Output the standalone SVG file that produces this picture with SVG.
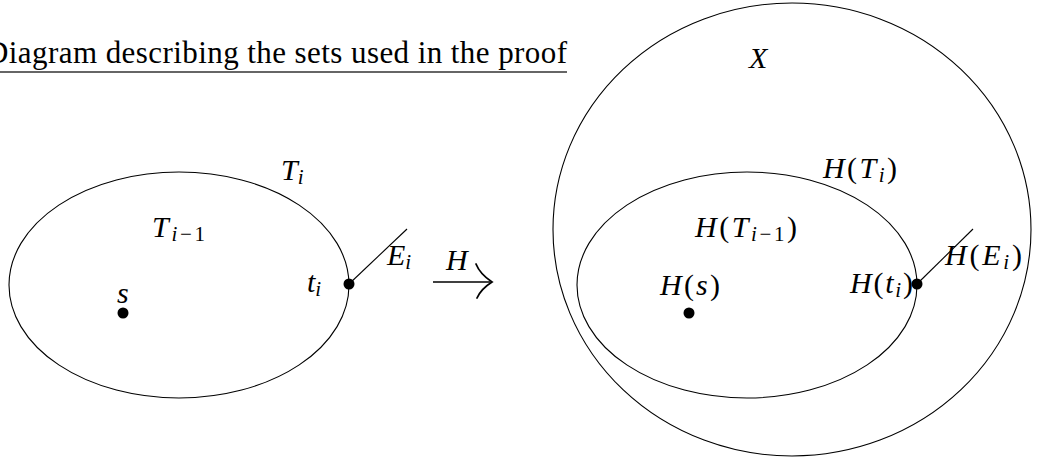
<svg xmlns="http://www.w3.org/2000/svg" width="1037" height="462" viewBox="0 0 1037 462">
<style>
.shape{fill:none;stroke:#000;stroke-width:1.1}
.edge{fill:none;stroke:#000;stroke-width:1.1}
.dot{fill:#000}
.m{font-family:"Liberation Serif","DejaVu Serif",serif;font-size:30px;fill:#000}
.it{font-style:italic}
.sub{font-size:21px}
.title{font-family:"Liberation Serif","DejaVu Serif",serif;font-size:31px;fill:#000}
</style>
<rect width="1037" height="462" fill="#fff"/>
<g id="title">
<text class="title" x="-14" y="63" textLength="581" lengthAdjust="spacing">Diagram describing the sets used in the proof</text>
<line x1="0" y1="72" x2="567" y2="72" stroke="#333" stroke-width="1.4"/>
</g>
<g id="T_i">
<ellipse class="shape" cx="179" cy="285" rx="170" ry="113"/>
<text class="m" x="281" y="180"><tspan class="it">T</tspan><tspan class="sub it" dy="4">i</tspan></text>
</g>
<g id="T_i-1">
<text class="m" x="152" y="237" textLength="53" lengthAdjust="spacing"><tspan class="it">T</tspan><tspan class="sub" dy="4"><tspan class="it">i</tspan>−1</tspan></text>
</g>
<g id="s">
<circle class="dot" cx="123" cy="313" r="5.5"/>
<text class="m it" x="117" y="303">s</text>
</g>
<g id="t_i">
<circle class="dot" cx="349" cy="284" r="5.5"/>
<text class="m" x="307" y="292"><tspan class="it">t</tspan><tspan class="sub it" dy="4">i</tspan></text>
</g>
<g id="E_i">
<text class="m" x="387" y="265"><tspan class="it">E</tspan><tspan class="sub it" dy="4">i</tspan></text>
</g>
<g id="H_map">
<line x1="433" y1="282" x2="490" y2="282" stroke="#000" stroke-width="1.6"/>
<path d="M476,264 Q480,274 492,282 Q481,289 477,298" fill="none" stroke="#000" stroke-width="1.8" stroke-linecap="round"/>
<text class="m it" x="446" y="270">H</text>
</g>
<g id="X">
<ellipse class="shape" cx="792" cy="229.5" rx="239" ry="226.5"/>
<text class="m it" x="749" y="68">X</text>
</g>
<g id="H_T_i">
<ellipse class="shape" cx="747" cy="285" rx="170" ry="113"/>
<text class="m" x="823" y="178" textLength="74" lengthAdjust="spacing"><tspan class="it">H</tspan>(<tspan class="it">T</tspan><tspan class="sub it" dy="4">i</tspan><tspan dy="-4">)</tspan></text>
</g>
<g id="H_T_i-1">
<text class="m" x="695" y="237" textLength="102" lengthAdjust="spacing"><tspan class="it">H</tspan>(<tspan class="it">T</tspan><tspan class="sub" dy="4"><tspan class="it">i</tspan>−1</tspan><tspan dy="-4">)</tspan></text>
</g>
<g id="H_s">
<circle class="dot" cx="689" cy="313" r="5.5"/>
<text class="m" x="660" y="295" textLength="60" lengthAdjust="spacing"><tspan class="it">H</tspan>(<tspan class="it">s</tspan>)</text>
</g>
<g id="H_t_i">
<circle class="dot" cx="917" cy="284" r="5.5"/>
<text class="m" x="850" y="293" textLength="63" lengthAdjust="spacing"><tspan class="it">H</tspan>(<tspan class="it">t</tspan><tspan class="sub it" dy="4">i</tspan><tspan dy="-4">)</tspan></text>
</g>
<g id="H_E_i">
<text class="m" x="945" y="265" textLength="77" lengthAdjust="spacing"><tspan class="it">H</tspan>(<tspan class="it">E</tspan><tspan class="sub it" dy="4">i</tspan><tspan dy="-4">)</tspan></text>
</g>
<g id="connectors">
<line class="edge" x1="349" y1="284" x2="407" y2="229"/>
<line class="edge" x1="917" y1="284" x2="973" y2="229"/>
</g>
</svg>
